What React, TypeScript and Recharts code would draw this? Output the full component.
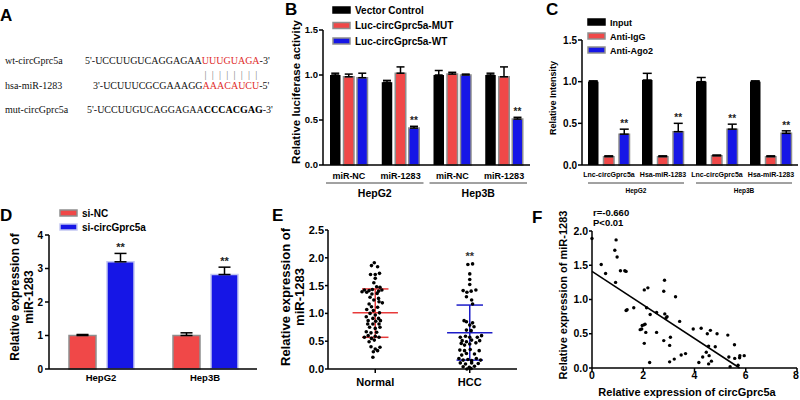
import React from "react";
import {
  BarChart,
  Bar,
  XAxis,
  YAxis,
  ErrorBar,
  LabelList,
  ScatterChart,
  Scatter,
  ReferenceLine,
  ReferenceDot,
} from "recharts";

const SANS = "'Liberation Sans', Arial, Helvetica, sans-serif";
const SERIF = "'Liberation Serif', 'Times New Roman', serif";
const RED = "#f04848";
const BLUE = "#1616e6";
const EDGE = "#8e8e8e";
const LINE_RED = "#e83a3a";
const LINE_BLUE = "#1c1cc8";

// A: binding sites
const seqNames = ["wt-circGprc5a", "hsa-miR-1283", "mut-circGprc5a"];
const seqHeads = ["5'-UCCUUGUCAGGAGAA", "3'-UCUUUCGCGAAAGG", "5'-UCCUUGUCAGGAGAA"];
const seqSites = ["UUUGUAGA", "AAACAUCU", "CCCACGAG"];
const seqTails = ["-3'", "-5'", "-3'"];

// B: luciferase
const lucSeries = ["Vector Control", "Luc-circGprc5a-MUT", "Luc-circGprc5a-WT"];
const lucCats = ["miR-NC", "miR-1283", "miR-NC", "miR-1283"];
const lucCells = ["HepG2", "HepG2", "Hep3B", "Hep3B"];
const lucVector = [1.0, 0.92, 1.0, 1.0];
const lucVectorErr = [0.02, 0.02, 0.05, 0.02];
const lucMut = [0.98, 1.02, 1.01, 0.98];
const lucMutErr = [0.03, 0.07, 0.02, 0.11];
const lucWt = [0.97, 0.41, 1.0, 0.51];
const lucWtErr = [0.05, 0.02, 0.01, 0.02];
const lucWtSig = ["", "**", "", "**"];
const lucTicks = [0, 0.5, 1, 1.5];

// C: RIP
const ripSeries = ["Input", "Anti-IgG", "Anti-Ago2"];
const ripCats = ["Lnc-circGprc5a", "Hsa-miR-1283", "Lnc-circGprc5a", "Hsa-miR-1283"];
const ripCells = ["HepG2", "HepG2", "Hep3B", "Hep3B"];
const ripInput = [1.0, 1.02, 1.0, 1.0];
const ripInputErr = [0.01, 0.08, 0.05, 0.01];
const ripIgg = [0.1, 0.1, 0.11, 0.1];
const ripIggErr = [0.01, 0.01, 0.01, 0.01];
const ripAgo2 = [0.37, 0.4, 0.43, 0.38];
const ripAgo2Err = [0.06, 0.1, 0.06, 0.03];
const ripAgo2Sig = ["**", "**", "**", "**"];
const ripTicks = [0, 0.5, 1, 1.5];

// D: knockdown
const siSeries = ["si-NC", "si-circGprc5a"];
const siCells = ["HepG2", "Hep3B"];
const siNc = [1.0, 1.0];
const siNcErr = [0.03, 0.08];
const siCirc = [3.2, 2.82];
const siCircErr = [0.25, 0.22];
const siCircSig = ["**", "**"];
const siTicks = [0, 1, 2, 3, 4];

// E: tissue expression (value, horizontal jitter)
const cohorts = ["Normal", "HCC"];
const cohortPos = [1, 3];
const normalY = [
  1.91, 1.86, 1.84, 1.7, 1.7, 1.72, 1.63, 1.55, 1.48, 1.47, 1.42, 1.41, 1.43, 1.4, 1.42,
  1.39, 1.38, 1.35, 1.36, 1.29, 1.27, 1.24, 1.21, 1.19, 1.17, 1.12, 1.11, 1.07, 1.05, 1.0,
  1.01, 0.97, 0.94, 0.91, 0.91, 0.87, 0.86, 0.87, 0.81, 0.81, 0.81, 0.75, 0.73, 0.75, 0.67,
  0.65, 0.66, 0.6, 0.59, 0.57, 0.55, 0.57, 0.49, 0.52, 0.4, 0.36, 0.39, 0.33, 0.31, 0.21,
];
const normalDx = [
  -0.02, -0.08, 0.05, -0.1, 0.0, 0.09, 0.0, -0.03, 0.03, 0.1, -0.23, -0.13, -0.06, 0.07, 0.14,
  -0.28, -0.18, -0.07, 0.04, -0.11, 0.07, -0.03, 0.08, 0.15, -0.13, -0.08, 0.05, -0.18, -0.04, -0.11,
  0.09, 0.0, -0.19, -0.05, 0.07, -0.15, 0.01, 0.11, -0.16, -0.05, 0.08, -0.12, 0.0, 0.1, -0.19,
  -0.09, 0.03, -0.15, 0.0, -0.23, -0.08, 0.08, -0.13, -0.02, -0.09, 0.0, 0.1, 0.05, -0.04, -0.05,
];
const hccY = [
  1.88, 1.89, 1.71, 1.61, 1.52, 1.41, 1.38, 1.4, 1.42, 1.3, 1.24, 1.17, 0.87, 0.85, 0.83,
  0.79, 0.76, 0.7, 0.69, 0.57, 0.59, 0.57, 0.57, 0.6, 0.51, 0.49, 0.52, 0.51, 0.46, 0.43,
  0.45, 0.47, 0.34, 0.33, 0.35, 0.33, 0.25, 0.28, 0.27, 0.19, 0.16, 0.17, 0.15, 0.19, 0.16,
  0.11, 0.09, 0.11, 0.1, 0.04, 0.03, 0.05, 0.0, 0.01,
];
const hccDx = [
  -0.04, 0.06, 0.0, 0.0, 0.0, -0.14, -0.06, 0.03, 0.13, -0.07, 0.04, 0.06, -0.12, -0.07, 0.06,
  0.0, 0.09, -0.07, 0.03, -0.2, -0.09, 0.0, 0.16, 0.25, -0.16, -0.07, 0.04, 0.21, -0.18, -0.11,
  0.0, 0.13, -0.21, -0.11, 0.01, 0.2, -0.17, -0.07, 0.1, -0.23, -0.14, -0.04, 0.04, 0.14, 0.23,
  -0.2, -0.09, 0.04, 0.18, -0.14, -0.01, 0.1, -0.06, 0.03,
];
// low SD, mean, high SD
const normalSummary = [0.57, 1.01, 1.44];
const hccSummary = [0.16, 0.65, 1.15];
const hccSigLevel = 2.03;
const tissueTicks = [0, 0.5, 1, 1.5, 2, 2.5];

// F: correlation
const corrX = [
  0, 0.36, 0.53, 0.89, 0.94, 0.98, 0.92, 1.11, 1.28, 1.33, 1.33, 1.37, 1.63, 2.04, 2.18, 2.13,
  2.27, 1.88, 1.94, 1.96, 2.03, 2.07, 2.1, 2.04, 2.25, 2.52, 2.52, 2.83, 2.8, 2.84, 2.89, 2.93,
  2.8, 3.06, 3.03, 3.03, 3.21, 3.26, 3.42, 3.48, 3.65, 3.95, 4.26, 4.17, 4.32, 4.46, 4.5, 4.62,
  4.55, 4.57, 4.55, 4.66, 4.81, 4.88, 5.3, 5.34, 5.39, 5.56, 5.57, 5.7, 5.77, 5.76, 5.94,
];
const corrY = [
  1.89, 1.51, 1.38, 1.72, 1.87, 1.62, 1.25, 1.42, 1.42, 1.41, 0.84, 0.85, 0.88, 1.14, 1.17, 0.88,
  0.78, 0.56, 0.57, 0.62, 0.63, 0.64, 0.52, 0.36, 0.08, 0.81, 0.52, 1.28, 1.12, 0.79, 0.73, 0.75,
  0.4, 0.45, 0.33, 0.09, 0.13, 1.04, 0.68, 0.19, 0.21, 0.57, 0.58, 0.08, 0.16, 0.23, 0.5, 0.55,
  0.32, 0.18, 0.06, 0.1, 0.31, 0.5, 0.48, 0.16, 0.02, 0.34, 0.14, 0.04, 0.18, 0.15, 0.18,
];
const fitX = [0, 5.76];
const fitY = [1.41, 0];
const corrStats = ["r=-0.660", "P<0.01"];
const corrXTicks = [0, 2, 4, 6, 8];
const corrYTicks = [0, 0.5, 1, 1.5, 2];

const lucData = lucCats.map((cat, i) => ({
  cat,
  vc: lucVector[i],
  vcErr: [0, lucVectorErr[i]],
  mut: lucMut[i],
  mutErr: [0, lucMutErr[i]],
  wt: lucWt[i],
  wtErr: [0, lucWtErr[i]],
}));

const ripData = ripCats.map((cat, i) => ({
  cat,
  input: ripInput[i],
  inputErr: [0, ripInputErr[i]],
  igg: ripIgg[i],
  iggErr: [0, ripIggErr[i]],
  ago: ripAgo2[i],
  agoErr: [0, ripAgo2Err[i]],
}));

const siData = siCells.map((cat, i) => ({
  cat,
  nc: siNc[i],
  ncErr: [0, siNcErr[i]],
  ko: siCirc[i],
  koErr: [0, siCircErr[i]],
}));

const normalPts = normalY.map((y, i) => ({ x: cohortPos[0] + normalDx[i], y }));
const hccPts = hccY.map((y, i) => ({ x: cohortPos[1] + hccDx[i], y }));
const corrPts = corrX.map((x, i) => ({ x, y: corrY[i] }));

const axisLine = { stroke: "#000", strokeWidth: 1.5 };
const tickFont = (size: number) => ({ fontSize: size, fill: "#000", fontWeight: "bold", fontFamily: SANS });

const starLabel = (sig: string[], errs: number[], pxPerUnit: number, size: number) => (p: any) => {
  const i = p.index;
  if (!sig[i]) return null;
  const vb = p.viewBox && p.viewBox.width != null ? p.viewBox : p;
  const cx = vb.x + vb.width / 2;
  const top = vb.y - errs[i] * pxPerUnit;
  return (
    <text key={`s${i}`} x={cx} y={top - 2} textAnchor="middle" fontSize={size} fontFamily={SANS} fontWeight="bold" fill="#222">
      {sig[i]}
    </text>
  );
};

function GroupTick(props: any) {
  const { x, payload, index, band, groups, labelY, lineY, groupY, size, groupSize, inset } = props;
  const i = index ?? payload.index;
  const first = i === 0 || groups[i] !== groups[i - 1];
  const span = groups.filter((g: string) => g === groups[i]).length;
  return (
    <g>
      <text x={x} y={labelY} textAnchor="middle" fontSize={size} fontWeight="bold" fontFamily={SANS} fill="#000">
        {payload.value}
      </text>
      {first && (
        <g>
          <line x1={x - band / 2 + inset} x2={x + band * (span - 0.5) - inset} y1={lineY} y2={lineY} stroke="#444" strokeWidth={1} />
          <text x={x + (band * (span - 1)) / 2} y={groupY} textAnchor="middle" fontSize={groupSize} fontWeight="bold" fontFamily={SANS} fill="#000">
            {groups[i]}
          </text>
        </g>
      )}
    </g>
  );
}

function PlainTick(props: any) {
  const { x, payload, labelY, size, format } = props;
  return (
    <text x={x} y={labelY} textAnchor="middle" fontSize={size} fontWeight="bold" fontFamily={SANS} fill="#000">
      {format ? format(payload.value) : payload.value}
    </text>
  );
}

function LuciferaseChart() {
  const band = (292 - 83 - 2) / 4;
  return (
    <BarChart width={292} height={210} data={lucData} margin={{ top: 30, right: 2, bottom: 0, left: 0 }} barGap={3}>
      <XAxis
        dataKey="cat"
        interval={0}
        height={45}
        axisLine={axisLine}
        tickLine={false}
        tick={(p: any) => (
          <GroupTick {...p} band={band} groups={lucCells} labelY={179} lineY={183} groupY={197} size={9} groupSize={10.5} inset={3} />
        )}
      />
      <YAxis
        domain={[0, 1.5]}
        ticks={lucTicks}
        width={83}
        axisLine={axisLine}
        tickLine={axisLine}
        tickSize={4}
        tickMargin={1}
        tick={tickFont(9.5)}
        tickFormatter={(v: number) => v.toFixed(1)}
      />
      <Bar dataKey="vc" fill="#000" barSize={10.5} isAnimationActive={false}>
        <ErrorBar dataKey="vcErr" width={4} stroke="#000" strokeWidth={1.5} />
      </Bar>
      <Bar dataKey="mut" fill={RED} stroke={EDGE} strokeWidth={1.5} barSize={10.5} isAnimationActive={false}>
        <ErrorBar dataKey="mutErr" width={4} stroke="#000" strokeWidth={1.5} />
      </Bar>
      <Bar dataKey="wt" fill={BLUE} stroke={EDGE} strokeWidth={1.5} barSize={10.5} isAnimationActive={false}>
        <ErrorBar dataKey="wtErr" width={4} stroke="#000" strokeWidth={1.5} />
        <LabelList dataKey="wt" content={starLabel(lucWtSig, lucWtErr, 90, 10)} />
      </Bar>
    </BarChart>
  );
}

function RipChart() {
  const band = (280 - 62 - 2) / 4;
  return (
    <BarChart width={280} height={210} data={ripData} margin={{ top: 40, right: 2, bottom: 0, left: 0 }} barGap={5}>
      <XAxis
        dataKey="cat"
        interval={0}
        height={45}
        axisLine={axisLine}
        tickLine={false}
        tick={(p: any) => (
          <GroupTick {...p} band={band} groups={ripCells} labelY={176.5} lineY={183} groupY={192.5} size={7} groupSize={6.5} inset={6} />
        )}
      />
      <YAxis
        domain={[0, 1.5]}
        ticks={ripTicks}
        width={62}
        axisLine={axisLine}
        tickLine={axisLine}
        tickSize={4}
        tickMargin={1}
        tick={tickFont(10)}
        tickFormatter={(v: number) => v.toFixed(1)}
      />
      <Bar dataKey="input" fill="#000" barSize={10.5} isAnimationActive={false}>
        <ErrorBar dataKey="inputErr" width={4.5} stroke="#000" strokeWidth={1.5} />
      </Bar>
      <Bar dataKey="igg" fill={RED} stroke={EDGE} strokeWidth={1.5} barSize={10.5} isAnimationActive={false}>
        <ErrorBar dataKey="iggErr" width={4.5} stroke="#000" strokeWidth={1.5} />
      </Bar>
      <Bar dataKey="ago" fill={BLUE} stroke={EDGE} strokeWidth={1.5} barSize={10.5} isAnimationActive={false}>
        <ErrorBar dataKey="agoErr" width={4.5} stroke="#000" strokeWidth={1.5} />
        <LabelList dataKey="ago" content={starLabel(ripAgo2Sig, ripAgo2Err, 125 / 1.5, 10)} />
      </Bar>
    </BarChart>
  );
}

function KnockdownChart() {
  return (
    <BarChart width={265} height={200} data={siData} margin={{ top: 35, right: 8, bottom: 0, left: 0 }} barGap={11}>
      <XAxis
        dataKey="cat"
        interval={0}
        height={31}
        axisLine={axisLine}
        tickLine={false}
        tick={(p: any) => <PlainTick {...p} labelY={181} size={9.5} />}
      />
      <YAxis
        domain={[0, 4]}
        ticks={siTicks}
        width={49}
        axisLine={axisLine}
        tickLine={axisLine}
        tickSize={4}
        tickMargin={2}
        tick={tickFont(10)}
      />
      <Bar dataKey="nc" fill={RED} stroke={EDGE} strokeWidth={1.5} barSize={27} isAnimationActive={false}>
        <ErrorBar dataKey="ncErr" width={6} stroke="#000" strokeWidth={1.5} />
      </Bar>
      <Bar dataKey="ko" fill={BLUE} stroke="#c4c8f2" strokeWidth={1.5} barSize={27} isAnimationActive={false}>
        <ErrorBar dataKey="koErr" width={6} stroke="#000" strokeWidth={1.5} />
        <LabelList dataKey="ko" content={starLabel(siCircSig, siCircErr, 134 / 4, 11)} />
      </Bar>
    </BarChart>
  );
}

function TissueChart() {
  const seg = (c: number, half: number, y: number) => [
    { x: c - half, y },
    { x: c + half, y },
  ];
  const summaries = [
    { c: cohortPos[0], s: normalSummary, color: LINE_RED },
    { c: cohortPos[1], s: hccSummary, color: LINE_BLUE },
  ];
  return (
    <ScatterChart width={260} height={200} margin={{ top: 30, right: 8, bottom: 0, left: 0 }}>
      <XAxis
        type="number"
        dataKey="x"
        domain={[0, 4]}
        ticks={cohortPos}
        height={31}
        axisLine={axisLine}
        tickLine={axisLine}
        tickSize={4}
        tick={(p: any) => (
          <PlainTick {...p} labelY={186} size={11} format={(v: number) => cohorts[cohortPos.indexOf(v)]} />
        )}
      />
      <YAxis
        type="number"
        dataKey="y"
        domain={[0, 2.5]}
        ticks={tissueTicks}
        width={63}
        axisLine={axisLine}
        tickLine={axisLine}
        tickSize={3}
        tickMargin={1}
        tick={tickFont(11)}
        tickFormatter={(v: number) => v.toFixed(1)}
      />
      <Scatter data={normalPts} isAnimationActive={false} shape={(p: any) => <circle cx={p.cx} cy={p.cy} r={1.8} fill="#000" />} />
      <Scatter data={hccPts} isAnimationActive={false} shape={(p: any) => <circle cx={p.cx} cy={p.cy} r={1.8} fill="#000" />} />
      {summaries.map(({ c, s, color }) => [
        <ReferenceLine key={`v${c}`} segment={[{ x: c, y: s[0] }, { x: c, y: s[2] }]} stroke={color} strokeWidth={1.5} ifOverflow="visible" />,
        <ReferenceLine key={`lo${c}`} segment={seg(c, 0.28, s[0])} stroke={color} strokeWidth={1.5} ifOverflow="visible" />,
        <ReferenceLine key={`hi${c}`} segment={seg(c, 0.28, s[2])} stroke={color} strokeWidth={1.5} ifOverflow="visible" />,
        <ReferenceLine key={`m${c}`} segment={seg(c, 0.48, s[1])} stroke={color} strokeWidth={1.5} ifOverflow="visible" />,
      ])}
      <ReferenceDot
        x={cohortPos[1]}
        y={hccSigLevel}
        r={0}
        ifOverflow="visible"
        shape={(p: any) => (
          <text x={p.cx} y={p.cy + 4} textAnchor="middle" fontSize={11} fontWeight="bold" fontFamily={SANS} fill="#333">
            **
          </text>
        )}
      />
    </ScatterChart>
  );
}

function CorrelationChart() {
  return (
    <ScatterChart width={275} height={200} margin={{ top: 31, right: 3, bottom: 0, left: 0 }}>
      <XAxis
        type="number"
        dataKey="x"
        domain={[0, 8]}
        ticks={corrXTicks}
        height={32}
        axisLine={axisLine}
        tickLine={axisLine}
        tickSize={4}
        tick={(p: any) => <PlainTick {...p} labelY={179} size={10.5} />}
      />
      <YAxis
        type="number"
        dataKey="y"
        domain={[0, 2]}
        ticks={corrYTicks}
        width={67}
        axisLine={axisLine}
        tickLine={axisLine}
        tickSize={3}
        tickMargin={1}
        tick={tickFont(10.5)}
        tickFormatter={(v: number) => v.toFixed(1)}
      />
      <Scatter data={corrPts} isAnimationActive={false} shape={(p: any) => <circle cx={p.cx} cy={p.cy} r={1.7} fill="#000" />} />
      <ReferenceLine
        segment={[
          { x: fitX[0], y: fitY[0] },
          { x: fitX[1], y: fitY[1] },
        ]}
        stroke="#000"
        strokeWidth={1.5}
        ifOverflow="visible"
      />
    </ScatterChart>
  );
}

function LegendRows({ x, y, step, labels, fills, edges, size }: any) {
  return (
    <g>
      {labels.map((l: string, i: number) => (
        <g key={l}>
          <rect x={x} y={y + i * step - 3} width={17} height={6} fill={fills[i]} stroke={edges[i]} strokeWidth={1.5} />
          <text x={x + 22} y={y + i * step + 3.5} fontSize={size} fontWeight="bold" fontFamily={SANS} fill="#000">
            {l}
          </text>
        </g>
      ))}
    </g>
  );
}

function VTitle({ cx, cy, lines, size, gap }: any) {
  return (
    <g>
      {lines.map((l: string, i: number) => {
        const x = cx + (i - (lines.length - 1) / 2) * gap;
        return (
          <text
            key={l}
            x={x}
            y={cy}
            transform={`rotate(-90 ${x} ${cy})`}
            textAnchor="middle"
            dominantBaseline="central"
            fontSize={size}
            fontWeight="bold"
            fontFamily={SANS}
            fill="#000"
          >
            {l}
          </text>
        );
      })}
    </g>
  );
}

function Overlay() {
  const letters = [
    ["A", 0, 21],
    ["B", 285, 15],
    ["C", 546, 15],
    ["D", 0, 221],
    ["E", 272, 221],
    ["F", 532, 223],
  ];
  const seqX = [85, 93, 87];
  const seqY = [64, 89, 113];
  const charW = 7.22;
  return (
    <svg width={800} height={400} style={{ position: "absolute", left: 0, top: 0, pointerEvents: "none" }}>
      {letters.map(([t, x, y]) => (
        <text key={t as string} x={x as number} y={y as number} fontSize={17} fontWeight="bold" fontFamily={SANS} fill="#000">
          {t}
        </text>
      ))}
      {seqNames.map((n, i) => (
        <g key={n}>
          <text x={5} y={seqY[i]} fontSize={10} fontFamily={SERIF} fill="#111">
            {n}
          </text>
          <text x={seqX[i]} y={seqY[i]} fontSize={10} fontFamily={SERIF} fill="#111">
            {seqHeads[i]}
            <tspan fill={i < 2 ? "#e02b2b" : "#000"} fontWeight={i < 2 ? "normal" : "bold"}>
              {seqSites[i]}
            </tspan>
            {seqTails[i]}
          </text>
        </g>
      ))}
      {seqSites[0].split("").map((_, k) => (
        <text key={k} x={202 + charW * (k + 0.5)} y={78} textAnchor="middle" fontSize={10} fontFamily={SERIF} fill="#777">
          |
        </text>
      ))}
      <LegendRows x={333} y={10} step={15.5} labels={lucSeries} fills={["#000", RED, BLUE]} edges={["#000", EDGE, EDGE]} size={10} />
      <LegendRows x={588} y={22} step={14} labels={ripSeries} fills={["#000", RED, BLUE]} edges={["#000", EDGE, EDGE]} size={9} />
      <LegendRows x={60} y={213} step={14} labels={siSeries} fills={[RED, BLUE]} edges={[EDGE, "#c4c8f2"]} size={10} />
      <VTitle cx={296} cy={92} lines={["Relative luciferase activity"]} size={11.5} gap={0} />
      <VTitle cx={553} cy={98} lines={["Relative Intensity"]} size={9} gap={0} />
      <VTitle cx={22} cy={297} lines={["Relative expression of", "miR-1283"]} size={12} gap={14} />
      <VTitle cx={292} cy={297} lines={["Relative expression of", "miR-1283"]} size={13} gap={14} />
      <VTitle cx={563} cy={295} lines={["Relative expression of miR-1283"]} size={11} gap={0} />
      <text x={687} y={396} textAnchor="middle" fontSize={11} fontWeight="bold" fontFamily={SANS} fill="#000">
        Relative expression of circGprc5a
      </text>
      {corrStats.map((s, i) => (
        <text key={s} x={593} y={216 + i * 10} fontSize={9.5} fontWeight="bold" fontFamily={SANS} fill="#000">
          {s}
        </text>
      ))}
    </svg>
  );
}

export default function App() {
  return (
    <div style={{ position: "fixed", left: 0, top: 0, width: 800, height: 400, background: "#fff", overflow: "hidden" }}>
      <div style={{ position: "absolute", left: 240, top: 0 }}>
        <LuciferaseChart />
      </div>
      <div style={{ position: "absolute", left: 520, top: 0 }}>
        <RipChart />
      </div>
      <div style={{ position: "absolute", left: 0, top: 200 }}>
        <KnockdownChart />
      </div>
      <div style={{ position: "absolute", left: 265, top: 200 }}>
        <TissueChart />
      </div>
      <div style={{ position: "absolute", left: 525, top: 200 }}>
        <CorrelationChart />
      </div>
      <Overlay />
    </div>
  );
}
